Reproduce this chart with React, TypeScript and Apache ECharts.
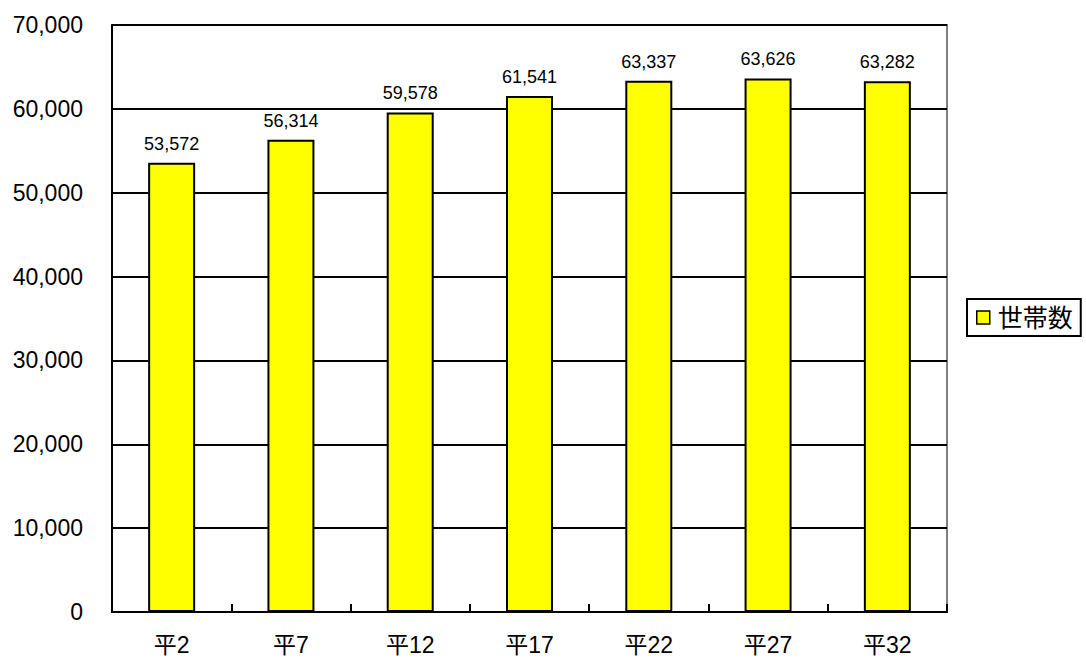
import React, { useEffect, useRef } from "react";
import * as echarts from "echarts";

const categories = ["平2", "平7", "平12", "平17", "平22", "平27", "平32"];
const households = [53572, 56314, 59578, 61541, 63337, 63626, 63282];
const seriesName = "世帯数";

const FONT = "'Liberation Sans', Arial, 'Noto Sans CJK JP', sans-serif";

export default function App() {
  const ref = useRef<HTMLDivElement>(null);
  useEffect(() => {
    if (!ref.current) return;
    const chart = echarts.init(ref.current, undefined, { renderer: "svg" });
    chart.setOption({
      animation: false,
      textStyle: { fontFamily: FONT },
      grid: {
        left: 112,
        right: 139,
        top: 25,
        bottom: 46,
        show: true,
        borderColor: "#808080",
        borderWidth: 2,
        backgroundColor: "transparent",
      },
      legend: {
        data: [seriesName],
        left: 967,
        top: 299,
        orient: "vertical",
        icon: "rect",
        itemWidth: 13,
        itemHeight: 13,
        itemGap: 0,
        padding: [6, 8, 6, 9],
        borderColor: "#000",
        borderWidth: 2,
        textStyle: { fontSize: 25, color: "#000", fontFamily: FONT, padding: [0, 0, 0, 3] },
        itemStyle: { borderColor: "#000", borderWidth: 1.5 },
      },
      xAxis: {
        type: "category",
        data: categories,
        boundaryGap: true,
        axisLine: { show: true, lineStyle: { color: "#000", width: 2 } },
        axisTick: { show: true, inside: true, length: 8, lineStyle: { color: "#000", width: 2 } },
        axisLabel: { fontSize: 23, color: "#000", margin: 21, fontFamily: FONT },
      },
      yAxis: {
        type: "value",
        min: 0,
        max: 70000,
        interval: 10000,
        axisLine: { show: true, lineStyle: { color: "#000", width: 2 } },
        axisTick: { show: true, inside: true, length: 8, lineStyle: { color: "#000", width: 2 } },
        axisLabel: {
          fontSize: 23,
          color: "#000",
          margin: 29,
          fontFamily: FONT,
          formatter: (v: number) => v.toLocaleString("en-US"),
        },
        splitLine: { show: true, lineStyle: { color: "#000", width: 2 } },
      },
      series: [
        {
          name: seriesName,
          type: "bar",
          data: households,
          barWidth: 47,
          itemStyle: { color: "#ffff00", borderColor: "#000", borderWidth: 2 },
          label: {
            show: true,
            position: "top",
            distance: 10,
            fontSize: 18,
            color: "#000",
            fontFamily: FONT,
            formatter: (p: any) => Number(p.value).toLocaleString("en-US"),
          },
        },
      ],
    });
    return () => chart.dispose();
  }, []);
  return (
    <div
      ref={ref}
      style={{ position: "absolute", left: 0, top: 0, width: 1086, height: 658, background: "#fff" }}
    />
  );
}
